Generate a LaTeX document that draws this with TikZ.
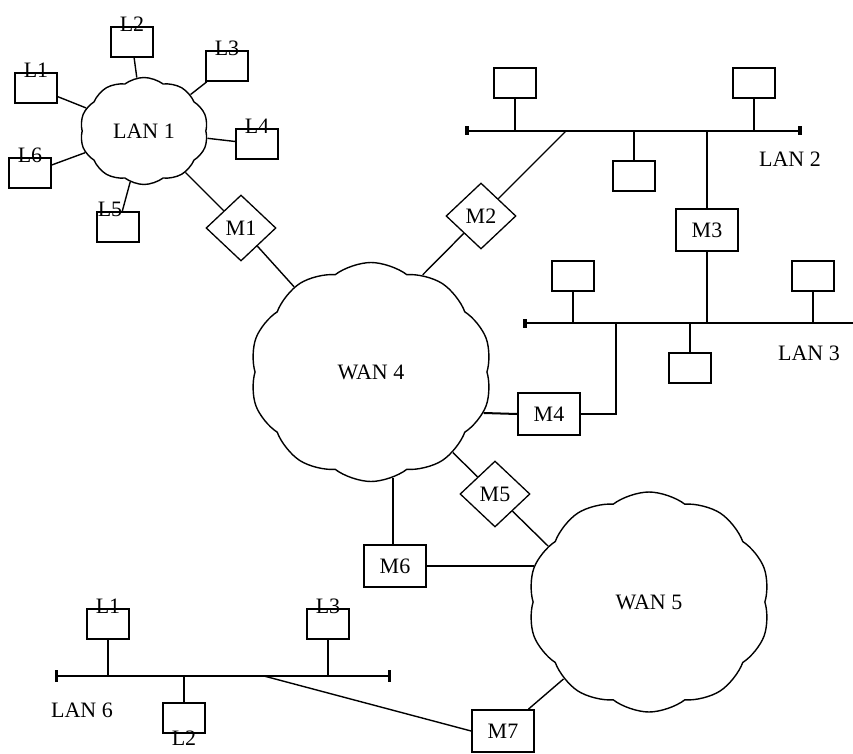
\documentclass[tikz,border=0pt]{standalone}
\usepackage{fontspec}
\setmainfont{Liberation Serif}
\usetikzlibrary{shapes.geometric,shapes.symbols,positioning}

\tikzset{
  station/.style={draw,line width=1.8pt,minimum width=42pt,minimum height=30pt,inner sep=0pt},
  router/.style={draw,line width=1.8pt,minimum width=62pt,minimum height=42pt,inner sep=0pt},
  bridge/.style={draw,diamond,line width=1.3pt,minimum width=70pt,minimum height=66pt,inner sep=0pt},
  net/.style={draw,cloud,cloud puffs=10,cloud puff arc=75,cloud ignores aspect,line width=1.4pt,inner sep=0pt},
  link/.style={line width=1.4pt},
  bus/.style={line width=2pt},
  busend/.style={fill,inner sep=0pt,minimum width=4pt,minimum height=9pt}
}

\begin{document}
\begin{tikzpicture}[x=1pt,y=-1pt,font=\fontsize{22}{24}\selectfont]
\useasboundingbox (0,0) rectangle (853,754);

% LAN 1 ring of stations
\node[net,minimum width=128pt,minimum height=107pt] (lan1) at (144,131) {LAN 1};
\node[station,label={[yshift=-9pt]above:L1}] (l1) at (36,88) {};
\node[station,label={[yshift=-9pt]above:L2}] (l2) at (132,42) {};
\node[station,label={[yshift=-9pt]above:L3}] (l3) at (227,66) {};
\node[station,label={[yshift=-9pt]above:L4}] (l4) at (257,144) {};
\node[station,label={[yshift=-9pt,xshift=-8pt]above:L5}] (l5) at (118,227) {};
\node[station,label={[yshift=-9pt]above:L6}] (l6) at (30,173) {};
\foreach \s in {l1,l2,l3,l4,l5,l6}
  \draw[link] (\s) -- (lan1);

% WAN 4 and WAN 5
\node[net,minimum width=242pt,minimum height=219pt] (wan4) at (371,372) {WAN 4};
\node[net,minimum width=242pt,minimum height=220pt] (wan5) at (649,602) {WAN 5};

% bridges and routers
\node[bridge] (m1) at (241,228) {M1};
\node[bridge] (m2) at (481,216) {M2};
\node[bridge] (m5) at (495,494) {M5};
\node[router] (m3) at (707,230) {M3};
\node[router] (m4) at (549,414) {M4};
\node[router] (m6) at (395,566) {M6};
\node[router] (m7) at (503,731) {M7};

% LAN 2 bus
\coordinate (lan2w) at (467,131);
\coordinate (lan2e) at (800,131);
\coordinate (lan2m2) at (566,131);
\draw[bus] (lan2w) -- (lan2e);
\node[busend] at (lan2w) {};
\node[busend] at (lan2e) {};
\node[station] (s21) at (515,83) {};
\node[station] (s22) at (754,83) {};
\node[station] (s23) at (634,176) {};
\foreach \s in {s21,s22,s23}
  \draw[bus] (\s) -- (\s |- lan2w);
\node (lan2lbl) at (790,159) {LAN 2};

% LAN 3 bus
\coordinate (lan3w) at (525,323);
\coordinate (lan3e) at (853,323);
\coordinate (lan3m4) at (616,323);
\draw[bus] (lan3w) -- (lan3e);
\node[busend] at (lan3w) {};
\node[station] (s31) at (573,276) {};
\node[station] (s32) at (813,276) {};
\node[station] (s33) at (690,368) {};
\foreach \s in {s31,s32,s33}
  \draw[bus] (\s) -- (\s |- lan3w);
\node (lan3lbl) at (809,353) {LAN 3};

% LAN 6 bus
\coordinate (lan6w) at (56,676);
\coordinate (lan6e) at (389,676);
\coordinate (lan6m7) at (264,676);
\draw[bus] (lan6w) -- (lan6e);
\node[busend,minimum width=3pt,minimum height=12pt] at (lan6w) {};
\node[busend,minimum width=3pt,minimum height=12pt] at (lan6e) {};
\node[station,label={[yshift=-9pt]above:L1}] (s61) at (108,624) {};
\node[station,label={[yshift=-9pt]above:L3}] (s63) at (328,624) {};
\node[station,label={[yshift=7pt]below:L2}] (s62) at (184,718) {};
\foreach \s in {s61,s62,s63}
  \draw[bus] (\s) -- (\s |- lan6w);
\node (lan6lbl) at (82,710) {LAN 6};

% links
\draw[link] (lan1) -- (m1) -- (wan4);
\draw[link] (lan2m2) -- (m2) -- (wan4.62);
\draw[bus] (m3) -- (m3 |- lan2w);
\draw[bus] (m3) -- (m3 |- lan3w);
\draw[bus] (lan3m4) |- (m4.east);
\draw[bus] (m4.west) -- (wan4.-20);
\draw[link] (wan4) -- (m5) -- (wan5.151);
\draw[bus] (wan4.-78) -- (wan4.-78 |- m6.north);
\draw[bus] (m6.east) -- (m6.east -| wan5.162);
\draw[link] (lan6m7) -- (m7.west);
\draw[link] (m7) -- (wan5.-138);
\end{tikzpicture}
\end{document}
